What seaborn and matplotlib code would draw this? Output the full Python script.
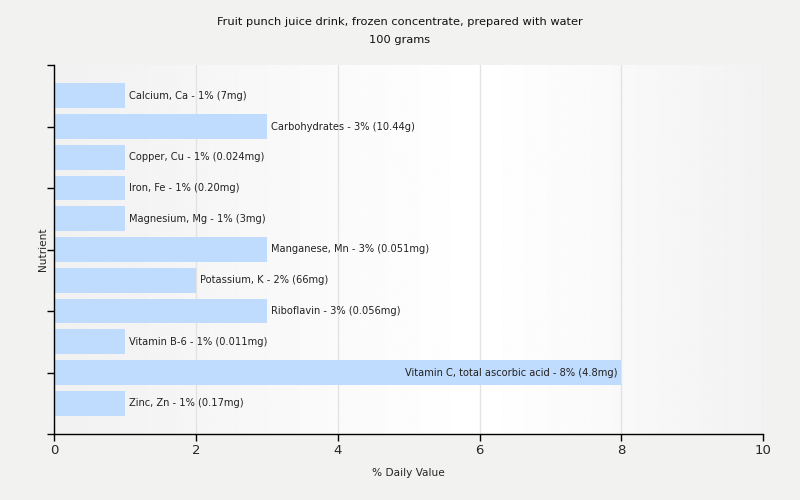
import matplotlib
matplotlib.use("Agg")
import matplotlib.pyplot as plt
import seaborn as sns
import numpy as np
import pandas as pd

# values
nutrients = ['Calcium, Ca', 'Carbohydrates', 'Copper, Cu', 'Iron, Fe', 'Magnesium, Mg',
             'Manganese, Mn', 'Potassium, K', 'Riboflavin', 'Vitamin B-6',
             'Vitamin C, total ascorbic acid', 'Zinc, Zn']
daily_pct = [1, 3, 1, 1, 1, 3, 2, 3, 1, 8, 1]
amounts = ['7mg', '10.44g', '0.024mg', '0.20mg', '3mg', '0.051mg', '66mg',
           '0.056mg', '0.011mg', '4.8mg', '0.17mg']

df = pd.DataFrame({'nutrient': nutrients, 'pct': daily_pct})

sns.set_style("white")
plt.rcParams['font.family'] = ['DejaVu Sans']

fig = plt.figure(figsize=(8, 5), dpi=100, facecolor='#f2f2f1')
ax = fig.add_axes([0.0675, 0.132, 0.8865, 0.738])

# soft horizontal gradient behind the bars
grad = np.concatenate([np.linspace(0.945, 1.0, 600), np.linspace(1.0, 0.95, 400)])
ax.imshow(np.tile(grad, (2, 1)), cmap='gray', vmin=0, vmax=1, aspect='auto',
          extent=[0, 1, 0, 1], transform=ax.transAxes, zorder=0,
          interpolation='bilinear')

sns.barplot(data=df, x='pct', y='nutrient', orient='h', color='#bfdbfd',
            saturation=1, width=0.8, linewidth=0, edgecolor='none', ax=ax, zorder=2)

for i, (name, v, amt) in enumerate(zip(nutrients, daily_pct, amounts)):
    label = f"{name} - {v}% ({amt})"
    if v >= 6:
        ax.text(v - 0.05, i, label, ha='right', va='center', fontsize=7.1,
                color='#222222', zorder=3)
    else:
        ax.text(v + 0.06, i, label, ha='left', va='center', fontsize=7.1,
                color='#222222', zorder=3)

ax.set_xlim(0, 10)
ax.set_ylim(11, -1)
ax.set_xticks([0, 2, 4, 6, 8, 10])
ax.set_yticks([-1, 1, 3, 5, 7, 9, 11])
ax.set_yticklabels([])
ax.xaxis.grid(True, color='#e3e3e3', linewidth=1, zorder=1)
ax.set_axisbelow(True)
for s in ['top', 'right']:
    ax.spines[s].set_visible(False)
for s in ['left', 'bottom']:
    ax.spines[s].set_color('black')
    ax.spines[s].set_linewidth(1)
ax.tick_params(axis='both', direction='out', length=5, width=1, color='black',
               bottom=True, left=True)
ax.tick_params(axis='x', labelsize=9.5, pad=2)

ax.set_xlabel('% Daily Value', fontsize=7.6, labelpad=8)
ax.set_ylabel('Nutrient', fontsize=7.6, labelpad=-4)
fig.text(0.5, 1 - 22 / 500, 'Fruit punch juice drink, frozen concentrate, prepared with water',
         ha='center', va='center', fontsize=8.2, color='#111111')
fig.text(0.5, 1 - 40 / 500, '100 grams', ha='center', va='center', fontsize=8.2,
         color='#111111')

fig.savefig('out.png', dpi=100, facecolor=fig.get_facecolor())
